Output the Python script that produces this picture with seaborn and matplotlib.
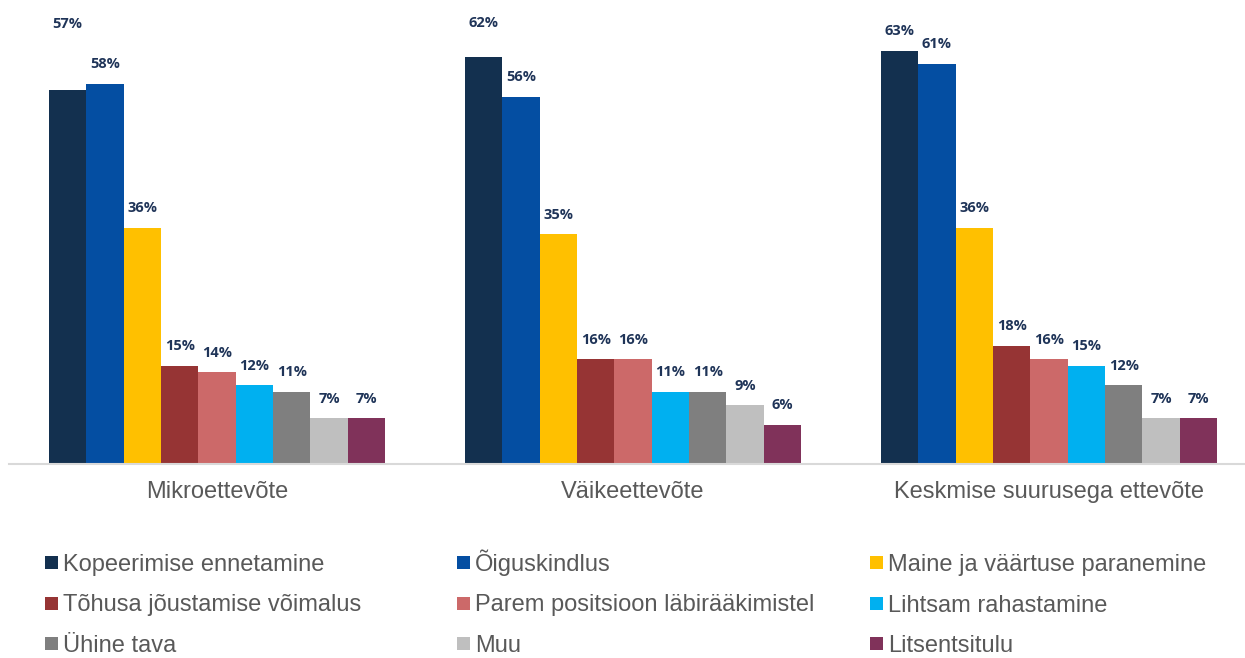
import pandas as pd
import numpy as np
import matplotlib
matplotlib.use("Agg")
import matplotlib.pyplot as plt
import seaborn as sns
from matplotlib.patches import Rectangle

# andmed
groups = ["Mikroettevõte", "Väikeettevõte", "Keskmise suurusega ettevõte"]
series = ["Kopeerimise ennetamine", "Õiguskindlus", "Maine ja väärtuse paranemine",
          "Tõhusa jõustamise võimalus", "Parem positsioon läbirääkimistel",
          "Lihtsam rahastamine", "Ühine tava", "Muu", "Litsentsitulu"]
mikro = [57, 58, 36, 15, 14, 12, 11, 7, 7]
vaike = [62, 56, 35, 16, 16, 11, 11, 9, 6]
keskmine = [63, 61, 36, 18, 16, 15, 12, 7, 7]
colors = ["#13304F", "#044EA2", "#FFC000", "#963434", "#CC6969",
          "#00B0F0", "#7F7F7F", "#BFBFBF", "#80325A"]

rows = []
for g, vals in zip(groups, [mikro, vaike, keskmine]):
    for s, v in zip(series, vals):
        rows.append({"grupp": g, "seeria": s, "vaartus": v})
df = pd.DataFrame(rows)

sns.set_style("white")
plt.rcParams["font.family"] = ["Liberation Sans", "DejaVu Sans"]

W, H = 1245, 658
fig = plt.figure(figsize=(W / 100, H / 100), dpi=100)
ax = fig.add_axes([9 / W, 1 - 464 / H, 1248 / W, 464 / H])

sns.barplot(data=df, x="grupp", y="vaartus", hue="seeria", order=groups,
            hue_order=series, palette=colors, width=0.808, saturation=1,
            errorbar=None, legend=False, linewidth=0, ax=ax)

ax.set_xlim(-0.5, 2.5)
ax.set_ylim(0, 464 / 6.56)
ax.set_xlabel("")
ax.set_ylabel("")
ax.set_yticks([])
for side in ["top", "left", "right"]:
    ax.spines[side].set_visible(False)
ax.spines["bottom"].set_color("#D9D9D9")
ax.spines["bottom"].set_linewidth(1.5)
ax.tick_params(axis="x", length=0, pad=12.5, labelsize=17, labelcolor="#595959")

# protsendid tulpade kohale (mõni silt on originaalis kõrgemal)
lift = {(0, 0): 47.5, (0, 1): 24.5}
for i, cont in enumerate(ax.containers):
    for j, bar in enumerate(cont):
        val = bar.get_height()
        off = lift.get((i, j), 14)
        ax.annotate(f"{val:.0f}%", (bar.get_x() + bar.get_width() / 2, val),
                    xytext=(0, off), textcoords="offset points",
                    ha="center", va="center", fontsize=10.5, fontweight="bold",
                    color="#1F3458", family=["Open Sans", "DejaVu Sans"])

# legend kolmes veerus, read ülevalt alla
col_x = [45, 457, 870]
row_y = [562, 603, 643]
sq = 13
for k, (name, col) in enumerate(zip(series, colors)):
    x = col_x[k % 3]
    y = row_y[k // 3]
    fig.add_artist(Rectangle((x / W, 1 - (y + sq / 2) / H), sq / W, sq / H,
                             transform=fig.transFigure, facecolor=col,
                             edgecolor="none"))
    fig.text((x + sq + 5) / W, 1 - (y + 8.5) / H, name, ha="left",
             va="baseline", fontsize=17, color="#595959")

fig.savefig("out.png", dpi=100)
